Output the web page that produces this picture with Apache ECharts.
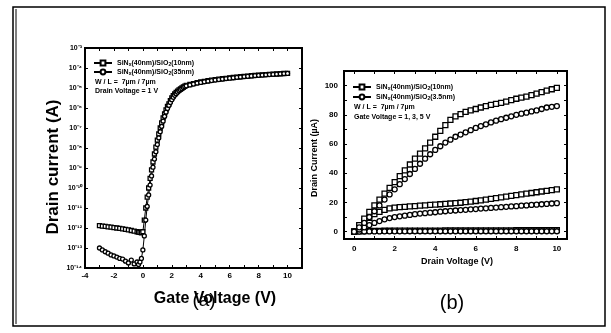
<!DOCTYPE html>
<html><head><meta charset="utf-8">
<script src="https://cdn.jsdelivr.net/npm/echarts@6/dist/echarts.min.js"></script>
<style>html,body{margin:0;padding:0;background:#fff}#c{width:611px;height:333px}</style>
</head><body><div id="c"></div>
<script>
// ---- Panel (a): transfer curves ----
const gateV = [-3,-2.8,-2.6,-2.4,-2.2,-2,-1.8,-1.6,-1.4,-1.2,-1,-0.8,-0.6,-0.4,-0.3,-0.2,-0.1,0,0.1,0.2,0.3,0.4,0.5,0.6,0.7,0.8,0.9,1,1.1,1.2,1.3,1.4,1.5,1.6,1.7,1.8,1.9,2,2.1,2.2,2.3,2.4,2.5,2.6,2.7,2.8,2.9,3,3.25,3.5,3.75,4,4.25,4.5,4.75,5,5.25,5.5,5.75,6,6.25,6.5,6.75,7,7.25,7.5,7.75,8,8.25,8.5,8.75,9,9.25,9.5,9.75,10];
const idOx10 = [1.3e-12,1.25e-12,1.2e-12,1.15e-12,1.1e-12,1.05e-12,1e-12,9.5e-13,9e-13,8.5e-13,8e-13,7.5e-13,7e-13,6.5e-13,
  6.2e-13,6e-13,5.8e-13,6.5e-13,2.5e-12,1e-11,3.5e-11,1e-10,3e-10,8e-10,2e-9,5e-9,1.1e-8,2.5e-8,5e-8,1e-7,1.8e-7,3.2e-7,5e-7,8e-7,1.2e-6,1.6e-6,2.3e-6,3.2e-6,4.1e-6,5e-6,6e-6,7e-6,8e-6,8.9e-6,1e-5,1.12e-5,1.24e-5,1.35e-5,
  1.5e-5,1.65e-5,1.85e-5,2.0e-5,2.15e-5,2.3e-5,2.45e-5,2.6e-5,2.75e-5,2.9e-5,3.05e-5,3.2e-5,3.35e-5,3.5e-5,3.65e-5,3.8e-5,3.95e-5,4.1e-5,4.25e-5,4.4e-5,4.5e-5,4.65e-5,4.8e-5,4.9e-5,5e-5,5.15e-5,5.3e-5,5.4e-5];
const idOx35 = [1e-13,8e-14,6.5e-14,5.5e-14,4.5e-14,4e-14,3.5e-14,3e-14,2.8e-14,2.2e-14,1.8e-14,2.5e-14,1.6e-14,2e-14,
  1.5e-14,2e-14,3e-14,8e-14,4e-13,2.5e-12,1.2e-11,4.5e-11,1.4e-10,4e-10,1.1e-9,2.8e-9,6.5e-9,1.5e-8,3.2e-8,6.5e-8,1.2e-7,2.2e-7,3.8e-7,6.2e-7,9.5e-7,1.35e-6,1.9e-6,2.6e-6,3.4e-6,4.3e-6,5.2e-6,6.2e-6,7.2e-6,8.2e-6,9.3e-6,1.05e-5,1.17e-5,1.28e-5,
  1.42e-5,1.58e-5,1.75e-5,1.9e-5,2.05e-5,2.2e-5,2.35e-5,2.5e-5,2.65e-5,2.8e-5,2.95e-5,3.1e-5,3.25e-5,3.4e-5,3.55e-5,3.7e-5,3.85e-5,4e-5,4.15e-5,4.3e-5,4.42e-5,4.55e-5,4.7e-5,4.82e-5,4.95e-5,5.1e-5,5.25e-5,5.35e-5];
const xTicksA = [-4,-2,0,2,4,6,8,10];
const xMinorA = [-4,-3,-2,-1,0,1,2,3,4,5,6,7,8,9,10,11];
const yTicksA = [1e-14,1e-13,1e-12,1e-11,1e-10,1e-9,1e-8,1e-7,1e-6,1e-5,1e-4,1e-3];
const yTickLabelsA = ['10⁻¹⁴','10⁻¹³','10⁻¹²','10⁻¹¹','10⁻¹⁰','10⁻⁹','10⁻⁸','10⁻⁷','10⁻⁶','10⁻⁵','10⁻⁴','10⁻³'];

// ---- Panel (b): output curves ----
const drainV = [0,0.25,0.5,0.75,1,1.25,1.5,1.75,2,2.25,2.5,2.75,3,3.25,3.5,3.75,4,4.25,4.5,4.75,5,5.25,5.5,5.75,6,6.25,6.5,6.75,7,7.25,7.5,7.75,8,8.25,8.5,8.75,9,9.25,9.5,9.75,10];
const id10Vg5 = [0,4.5,9,13.5,18,22,26,30,34,38,42,46,50,53.5,57,61,65,69,73,76.5,79,80.5,82,83,84,85,86,86.8,87.5,88.2,89,90,91,91.8,92.5,93.5,94.5,95.5,96.5,97.5,98.5];
const id35Vg5 = [0,3,6,10,14,18,22,25.5,29,32.5,36,39.5,43,46.5,50,53,56,58.5,61,63,65,66.5,68,69.5,71,72.3,73.5,74.8,76,77,78,79,80,80.8,81.5,82.3,83,84,85,85.5,86];
const id10Vg3 = [0,3.5,7,9.5,12,13.5,15,16,16.5,16.8,17,17.3,17.5,17.8,18,18.3,18.5,18.8,19,19.3,19.5,19.8,20.2,20.6,21,21.5,22,22.5,23,23.5,24,24.5,25,25.5,26,26.5,27,27.5,28,28.5,29];
const id35Vg3 = [0,1.5,3,4.5,6,7.3,8.5,9.3,10,10.5,11,11.5,12,12.4,12.7,13,13.3,13.7,14,14.3,14.5,14.8,15,15.3,15.5,15.8,16,16.3,16.5,16.8,17,17.3,17.5,17.8,18,18.3,18.5,18.8,19,19.3,19.5];
const id10Vg1 = [0,0.2,0.4,0.5,0.6,0.6,0.65,0.65,0.7,0.7,0.7,0.75,0.75,0.75,0.8,0.8,0.8,0.8,0.85,0.85,0.85,0.85,0.9,0.9,0.9,0.9,0.9,0.95,0.95,0.95,0.95,0.95,1,1,1,1,1,1,1.05,1.05,1.05];
const id35Vg1 = [0,0.1,0.15,0.2,0.2,0.2,0.25,0.25,0.25,0.25,0.25,0.3,0.3,0.3,0.3,0.3,0.3,0.3,0.3,0.3,0.3,0.3,0.3,0.3,0.3,0.3,0.3,0.3,0.3,0.3,0.3,0.3,0.3,0.3,0.3,0.3,0.3,0.3,0.3,0.3,0.3];
const xTicksB = [0,2,4,6,8,10];
const xMinorB = [0,1,2,3,4,5,6,7,8,9,10];
const yTicksB = [0,20,40,60,80,100];
const yMinorB = [0,10,20,30,40,50,60,70,80,90,100,110];

const nameA10 = 'a10', nameA35 = 'a35', nameB10 = 'b10', nameB35 = 'b35';
const legendText = {
  a10: 'SiN{s|x}(40nm)/SiO{s|2}(10nm)',
  a35: 'SiN{s|x}(40nm)/SiO{s|2}(35nm)',
  b10: 'SiN{s|x}(40nm)/SiO{s|2}(10nm)',
  b35: 'SiN{s|x}(40nm)/SiO{s|2}(3.5nm)'
};

const FONT = 'Liberation Sans, Arial, sans-serif';
const pairs = (xs, ys) => xs.map((x, i) => [x, ys[i]]);
const mkSeries = (name, sym, xi, yi, xs, ys, size) => ({
  name, type: 'line', xAxisIndex: xi, yAxisIndex: yi, data: pairs(xs, ys),
  symbol: sym, symbolSize: size, showAllSymbol: true,
  lineStyle: {color: '#000', width: 1},
  itemStyle: {color: '#fff', borderColor: '#000', borderWidth: 1.3},
  emphasis: {disabled: true}, animation: false
});
const tickLbl = {fontSize: 8, fontWeight: 'bold', color: '#000', fontFamily: FONT};
const frameAxis = (type, grid, pos, extra) => Object.assign({
  type, gridIndex: grid, position: pos,
  axisLine: {show: false, onZero: false}, splitLine: {show: false},
  axisTick: {show: true, inside: true, length: 3, lineStyle: {color: '#000', width: 1}},
  axisLabel: {show: false}
}, extra);
const tk = (vals) => ({show: true, inside: true, length: 3, customValues: vals, lineStyle: {color: '#000', width: 1}});
const legendStyle = {fontSize: 7, lineHeight: 8, fontWeight: 'bold', color: '#000', fontFamily: FONT,
  rich: {s: {fontSize: 5, lineHeight: 8, fontWeight: 'bold', fontFamily: FONT, padding: [3, 0, 0, 0]}}};

const chart = echarts.init(document.getElementById('c'), null, {renderer: 'canvas'});
chart.setOption({
  backgroundColor: '#fff',
  animation: false,
  grid: [
    {left: 85, top: 48, width: 217, height: 220, show: true, borderColor: '#000', borderWidth: 2, backgroundColor: 'transparent'},
    {left: 344, top: 71, width: 223, height: 168, show: true, borderColor: '#000', borderWidth: 2, backgroundColor: 'transparent'}
  ],
  xAxis: [
    frameAxis('value', 0, 'bottom', {min: -4, max: 11, axisTick: tk(xMinorA),
      axisLabel: Object.assign({show: true, margin: 4, customValues: xTicksA}, tickLbl)}),
    frameAxis('value', 0, 'top', {min: -4, max: 11, axisTick: tk(xMinorA)}),
    frameAxis('value', 1, 'bottom', {min: -0.5, max: 10.5, axisTick: tk(xMinorB),
      axisLabel: Object.assign({show: true, margin: 6, customValues: xTicksB}, tickLbl)}),
    frameAxis('value', 1, 'top', {min: -0.5, max: 10.5, axisTick: tk(xMinorB)})
  ],
  yAxis: [
    frameAxis('log', 0, 'left', {min: 1e-14, max: 1e-3, logBase: 10, axisTick: tk(yTicksA),
      axisLabel: Object.assign({show: true, margin: 3, customValues: yTicksA,
        formatter: v => yTickLabelsA[yTicksA.findIndex(t => Math.abs(Math.log10(t) - Math.log10(v)) < 0.01)] || ''}, tickLbl, {fontSize: 7})}),
    frameAxis('log', 0, 'right', {min: 1e-14, max: 1e-3, logBase: 10, axisTick: tk(yTicksA)}),
    frameAxis('value', 1, 'left', {min: -5, max: 110, axisTick: tk(yMinorB),
      axisLabel: Object.assign({show: true, margin: 6, customValues: yTicksB}, tickLbl)}),
    frameAxis('value', 1, 'right', {min: -5, max: 110, axisTick: tk(yMinorB)})
  ],
  legend: [
    {show: true, left: 93, top: 59, orient: 'vertical', itemWidth: 18, itemHeight: 6, itemGap: 1, padding: 0,
     selectedMode: false, data: [nameA10, nameA35], formatter: n => legendText[n], textStyle: legendStyle},
    {show: true, left: 352, top: 83, orient: 'vertical', itemWidth: 18, itemHeight: 6, itemGap: 2, padding: 0,
     selectedMode: false, data: [nameB10, nameB35], formatter: n => legendText[n], textStyle: legendStyle}
  ],
  series: [
    mkSeries(nameA10, 'rect', 0, 0, gateV, idOx10, 4),
    mkSeries(nameA35, 'circle', 0, 0, gateV, idOx35, 4),
    mkSeries(nameB10, 'rect', 2, 2, drainV, id10Vg1, 5),
    mkSeries(nameB35, 'circle', 2, 2, drainV, id35Vg1, 5),
    mkSeries(nameB10, 'rect', 2, 2, drainV, id10Vg3, 5),
    mkSeries(nameB35, 'circle', 2, 2, drainV, id35Vg3, 5),
    mkSeries(nameB10, 'rect', 2, 2, drainV, id10Vg5, 5),
    mkSeries(nameB35, 'circle', 2, 2, drainV, id35Vg5, 5)
  ],
  graphic: [
    {type: 'rect', shape: {x: 13, y: 7, width: 592, height: 319}, style: {fill: 'none', stroke: '#000', lineWidth: 1.5}, silent: true},
    {type: 'line', shape: {x1: 16, y1: 9, x2: 16, y2: 324}, style: {stroke: '#000', lineWidth: 1}, silent: true},
    {type: 'text', x: 95, y: 82, style: {text: 'W / L =  7µm / 7µm', font: 'bold 7px ' + FONT, fill: '#000', textVerticalAlign: 'middle'}},
    {type: 'text', x: 95, y: 91, style: {text: 'Drain Voltage = 1 V', font: 'bold 7px ' + FONT, fill: '#000', textVerticalAlign: 'middle'}},
    {type: 'text', x: 354, y: 107, style: {text: 'W / L =  7µm / 7µm', font: 'bold 7px ' + FONT, fill: '#000', textVerticalAlign: 'middle'}},
    {type: 'text', x: 354, y: 117, style: {text: 'Gate Voltage = 1, 3, 5 V', font: 'bold 7px ' + FONT, fill: '#000', textVerticalAlign: 'middle'}},
    {type: 'text', x: 53, y: 167, rotation: Math.PI / 2, style: {text: 'Drain current (A)', font: 'bold 17px ' + FONT, fill: '#000', textAlign: 'center', textVerticalAlign: 'middle'}},
    {type: 'text', x: 215, y: 299, style: {text: 'Gate Voltage (V)', font: 'bold 16px ' + FONT, fill: '#000', textAlign: 'center', textVerticalAlign: 'middle'}},
    {type: 'text', x: 204, y: 301, style: {text: '(a)', font: '19px ' + FONT, fill: '#000', textAlign: 'center', textVerticalAlign: 'middle'}},
    {type: 'text', x: 315, y: 158, rotation: Math.PI / 2, style: {text: 'Drain Current (µA)', font: 'bold 9px ' + FONT, fill: '#000', textAlign: 'center', textVerticalAlign: 'middle'}},
    {type: 'text', x: 457, y: 262, style: {text: 'Drain Voltage (V)', font: 'bold 9px ' + FONT, fill: '#000', textAlign: 'center', textVerticalAlign: 'middle'}},
    {type: 'text', x: 452, y: 303, style: {text: '(b)', font: '20px ' + FONT, fill: '#000', textAlign: 'center', textVerticalAlign: 'middle'}}
  ]
});
</script>
</body></html>
